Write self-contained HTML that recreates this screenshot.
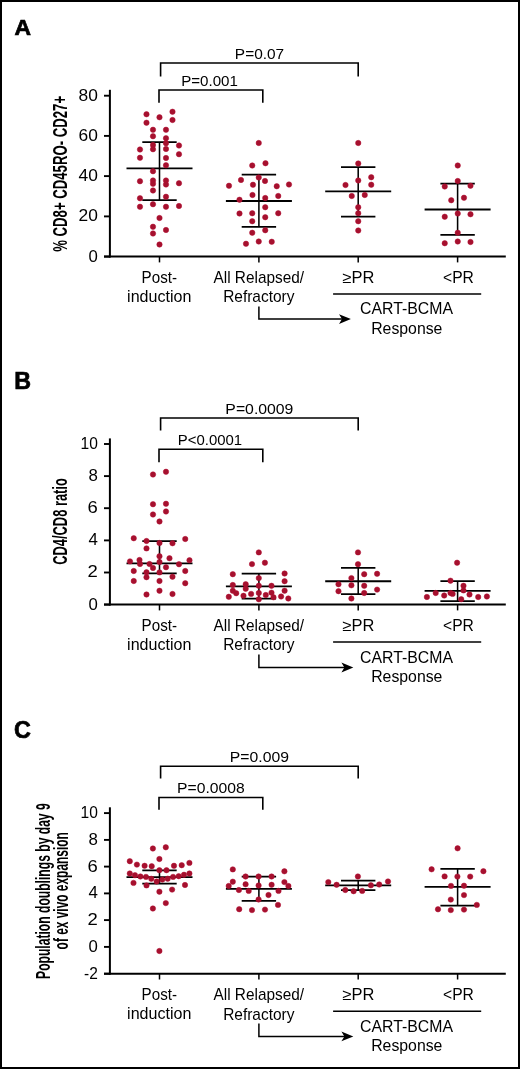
<!DOCTYPE html>
<html><head><meta charset="utf-8"><title>Figure</title>
<style>
html,body{margin:0;padding:0;background:#fff;}
body{width:520px;height:1069px;overflow:hidden;}
svg{display:block;will-change:transform;}
text{font-family:'Liberation Sans', sans-serif;fill:#000;}
</style></head>
<body>
<svg width="520" height="1069" viewBox="0 0 520 1069">
<rect x="0" y="0" width="520" height="1069" fill="#fff"/>
<rect x="1" y="1" width="518" height="1067" fill="none" stroke="#000" stroke-width="2"/>
<text x="14.48" y="34.50" font-size="22.9" font-weight="bold" stroke="#000" stroke-width="0.7" stroke-linejoin="miter" textLength="16.52" lengthAdjust="spacingAndGlyphs">A</text>
<line x1="109.90" y1="89.80" x2="109.90" y2="257.60" stroke="#000" stroke-width="2.0" stroke-linecap="butt"/><line x1="104.00" y1="95.70" x2="109.90" y2="95.70" stroke="#000" stroke-width="1.9" stroke-linecap="butt"/><text x="78.58" y="100.60" font-size="15.9" textLength="19.32" lengthAdjust="spacingAndGlyphs">80</text><line x1="104.00" y1="135.90" x2="109.90" y2="135.90" stroke="#000" stroke-width="1.9" stroke-linecap="butt"/><text x="78.58" y="140.80" font-size="15.9" textLength="19.32" lengthAdjust="spacingAndGlyphs">60</text><line x1="104.00" y1="176.10" x2="109.90" y2="176.10" stroke="#000" stroke-width="1.9" stroke-linecap="butt"/><text x="78.58" y="181.00" font-size="15.9" textLength="19.32" lengthAdjust="spacingAndGlyphs">40</text><line x1="104.00" y1="216.40" x2="109.90" y2="216.40" stroke="#000" stroke-width="1.9" stroke-linecap="butt"/><text x="78.58" y="221.30" font-size="15.9" textLength="19.32" lengthAdjust="spacingAndGlyphs">20</text><line x1="104.00" y1="256.60" x2="109.90" y2="256.60" stroke="#000" stroke-width="1.9" stroke-linecap="butt"/><text x="88.56" y="261.50" font-size="15.9" textLength="9.34" lengthAdjust="spacingAndGlyphs">0</text>
<text transform="translate(67.00,251.80) rotate(-90)" x="0" y="0" font-size="20.6" font-weight="bold" textLength="155.90" lengthAdjust="spacingAndGlyphs">% CD8+ CD45RO- CD27+</text>
<line x1="104.00" y1="256.60" x2="505.80" y2="256.60" stroke="#000" stroke-width="2.0" stroke-linecap="butt"/><line x1="159.50" y1="256.60" x2="159.50" y2="262.40" stroke="#000" stroke-width="1.5" stroke-linecap="butt"/><line x1="258.90" y1="256.60" x2="258.90" y2="262.40" stroke="#000" stroke-width="1.5" stroke-linecap="butt"/><line x1="358.20" y1="256.60" x2="358.20" y2="262.40" stroke="#000" stroke-width="1.5" stroke-linecap="butt"/><line x1="457.60" y1="256.60" x2="457.60" y2="262.40" stroke="#000" stroke-width="1.5" stroke-linecap="butt"/><text x="141.60" y="282.90" font-size="15.9" textLength="35.38" lengthAdjust="spacingAndGlyphs">Post-</text><text x="127.14" y="302.10" font-size="15.9" textLength="64.24" lengthAdjust="spacingAndGlyphs">induction</text><text x="213.50" y="282.80" font-size="15.9" textLength="90.54" lengthAdjust="spacingAndGlyphs">All Relapsed/</text><text x="223.16" y="302.40" font-size="15.9" textLength="71.28" lengthAdjust="spacingAndGlyphs">Refractory</text><text x="342.54" y="283.30" font-size="15.9" textLength="31.88" lengthAdjust="spacingAndGlyphs">≥PR</text><text x="443.02" y="283.30" font-size="15.9" textLength="30.86" lengthAdjust="spacingAndGlyphs">&lt;PR</text><line x1="333.10" y1="294.10" x2="481.20" y2="294.10" stroke="#000" stroke-width="1.5" stroke-linecap="butt"/><text x="360.08" y="314.10" font-size="15.9" textLength="92.92" lengthAdjust="spacingAndGlyphs">CART-BCMA</text><text x="371.16" y="333.60" font-size="15.9" textLength="71.24" lengthAdjust="spacingAndGlyphs">Response</text><path d="M258.9 306.50 V319.10 H343.0" fill="none" stroke="#000" stroke-width="1.5"/><path d="M350.9 319.10 L339.0 314.20 L342.0 319.10 L339.0 324.00 Z" fill="#000"/>
<path d="M160.6 76.4 V63.0 H358.2 V76.4" fill="none" stroke="#000" stroke-width="1.6"/>
<path d="M159.0 102.7 V90.0 H262.8 V102.7" fill="none" stroke="#000" stroke-width="1.6"/>
<text x="234.85" y="58.75" font-size="15.2" textLength="49.30" lengthAdjust="spacingAndGlyphs">P=0.07</text>
<text x="181.14" y="85.50" font-size="15.2" textLength="56.76" lengthAdjust="spacingAndGlyphs">P=0.001</text>
<line x1="159.50" y1="142.00" x2="159.50" y2="200.00" stroke="#000" stroke-width="1.55" stroke-linecap="butt"/><line x1="142.30" y1="142.00" x2="176.70" y2="142.00" stroke="#000" stroke-width="1.75" stroke-linecap="butt"/><line x1="142.30" y1="200.00" x2="176.70" y2="200.00" stroke="#000" stroke-width="1.75" stroke-linecap="butt"/><line x1="126.50" y1="168.30" x2="192.50" y2="168.30" stroke="#000" stroke-width="1.85" stroke-linecap="butt"/>
<line x1="258.90" y1="174.50" x2="258.90" y2="226.80" stroke="#000" stroke-width="1.55" stroke-linecap="butt"/><line x1="241.70" y1="174.50" x2="276.10" y2="174.50" stroke="#000" stroke-width="1.75" stroke-linecap="butt"/><line x1="241.70" y1="226.80" x2="276.10" y2="226.80" stroke="#000" stroke-width="1.75" stroke-linecap="butt"/><line x1="225.90" y1="201.00" x2="291.90" y2="201.00" stroke="#000" stroke-width="1.85" stroke-linecap="butt"/>
<line x1="358.20" y1="167.10" x2="358.20" y2="216.50" stroke="#000" stroke-width="1.55" stroke-linecap="butt"/><line x1="341.00" y1="167.10" x2="375.40" y2="167.10" stroke="#000" stroke-width="1.75" stroke-linecap="butt"/><line x1="341.00" y1="216.50" x2="375.40" y2="216.50" stroke="#000" stroke-width="1.75" stroke-linecap="butt"/><line x1="325.20" y1="191.30" x2="391.20" y2="191.30" stroke="#000" stroke-width="1.85" stroke-linecap="butt"/>
<line x1="457.60" y1="183.50" x2="457.60" y2="234.80" stroke="#000" stroke-width="1.55" stroke-linecap="butt"/><line x1="440.40" y1="183.50" x2="474.80" y2="183.50" stroke="#000" stroke-width="1.75" stroke-linecap="butt"/><line x1="440.40" y1="234.80" x2="474.80" y2="234.80" stroke="#000" stroke-width="1.75" stroke-linecap="butt"/><line x1="424.60" y1="209.50" x2="490.60" y2="209.50" stroke="#000" stroke-width="1.85" stroke-linecap="butt"/>
<g fill="#a5112e" stroke="#b30a30" stroke-width="0.5"><circle cx="146.50" cy="114.25" r="2.7"/><circle cx="172.50" cy="111.75" r="2.7"/><circle cx="159.50" cy="117.25" r="2.7"/><circle cx="172.50" cy="120.00" r="2.7"/><circle cx="146.50" cy="122.75" r="2.7"/><circle cx="153.00" cy="129.75" r="2.7"/><circle cx="166.00" cy="129.75" r="2.7"/><circle cx="153.00" cy="136.25" r="2.7"/><circle cx="166.00" cy="138.25" r="2.7"/><circle cx="166.00" cy="143.25" r="2.7"/><circle cx="153.00" cy="145.00" r="2.7"/><circle cx="153.00" cy="149.25" r="2.7"/><circle cx="166.00" cy="149.00" r="2.7"/><circle cx="179.00" cy="145.50" r="2.7"/><circle cx="140.00" cy="149.50" r="2.7"/><circle cx="179.00" cy="154.25" r="2.7"/><circle cx="140.00" cy="157.75" r="2.7"/><circle cx="166.00" cy="158.00" r="2.7"/><circle cx="166.00" cy="165.25" r="2.7"/><circle cx="153.00" cy="171.25" r="2.7"/><circle cx="140.00" cy="181.25" r="2.7"/><circle cx="153.00" cy="180.50" r="2.7"/><circle cx="153.00" cy="183.75" r="2.7"/><circle cx="166.00" cy="180.50" r="2.7"/><circle cx="166.00" cy="184.50" r="2.7"/><circle cx="179.00" cy="183.25" r="2.7"/><circle cx="153.00" cy="190.50" r="2.7"/><circle cx="166.00" cy="196.75" r="2.7"/><circle cx="140.00" cy="198.25" r="2.7"/><circle cx="153.00" cy="204.25" r="2.7"/><circle cx="140.00" cy="206.75" r="2.7"/><circle cx="166.00" cy="206.75" r="2.7"/><circle cx="179.00" cy="206.00" r="2.7"/><circle cx="159.50" cy="218.00" r="2.7"/><circle cx="153.00" cy="226.75" r="2.7"/><circle cx="166.00" cy="230.00" r="2.7"/><circle cx="153.00" cy="233.50" r="2.7"/><circle cx="159.50" cy="244.50" r="2.7"/><circle cx="258.75" cy="143.00" r="2.7"/><circle cx="265.50" cy="163.25" r="2.7"/><circle cx="252.25" cy="165.50" r="2.7"/><circle cx="258.75" cy="177.50" r="2.7"/><circle cx="241.00" cy="180.00" r="2.7"/><circle cx="265.00" cy="181.00" r="2.7"/><circle cx="229.00" cy="185.75" r="2.7"/><circle cx="253.00" cy="184.75" r="2.7"/><circle cx="276.75" cy="186.25" r="2.7"/><circle cx="289.00" cy="184.50" r="2.7"/><circle cx="252.50" cy="195.00" r="2.7"/><circle cx="278.25" cy="196.00" r="2.7"/><circle cx="239.50" cy="199.75" r="2.7"/><circle cx="265.25" cy="198.00" r="2.7"/><circle cx="265.25" cy="207.25" r="2.7"/><circle cx="239.50" cy="213.50" r="2.7"/><circle cx="252.25" cy="213.25" r="2.7"/><circle cx="278.25" cy="213.25" r="2.7"/><circle cx="265.25" cy="217.25" r="2.7"/><circle cx="252.25" cy="221.25" r="2.7"/><circle cx="265.25" cy="230.25" r="2.7"/><circle cx="252.25" cy="232.75" r="2.7"/><circle cx="258.75" cy="241.50" r="2.7"/><circle cx="271.75" cy="241.75" r="2.7"/><circle cx="246.00" cy="243.75" r="2.7"/><circle cx="358.25" cy="143.00" r="2.7"/><circle cx="358.25" cy="163.50" r="2.7"/><circle cx="371.25" cy="177.25" r="2.7"/><circle cx="358.25" cy="180.50" r="2.7"/><circle cx="345.50" cy="185.00" r="2.7"/><circle cx="371.25" cy="184.75" r="2.7"/><circle cx="351.75" cy="196.00" r="2.7"/><circle cx="364.75" cy="195.00" r="2.7"/><circle cx="358.25" cy="207.25" r="2.7"/><circle cx="358.25" cy="213.25" r="2.7"/><circle cx="358.25" cy="221.25" r="2.7"/><circle cx="358.25" cy="230.50" r="2.7"/><circle cx="457.75" cy="165.50" r="2.7"/><circle cx="457.75" cy="181.00" r="2.7"/><circle cx="444.75" cy="186.50" r="2.7"/><circle cx="470.50" cy="185.75" r="2.7"/><circle cx="451.25" cy="200.25" r="2.7"/><circle cx="464.00" cy="197.75" r="2.7"/><circle cx="457.75" cy="213.50" r="2.7"/><circle cx="470.50" cy="214.25" r="2.7"/><circle cx="444.75" cy="216.75" r="2.7"/><circle cx="457.75" cy="232.75" r="2.7"/><circle cx="444.75" cy="243.25" r="2.7"/><circle cx="457.75" cy="241.50" r="2.7"/><circle cx="470.50" cy="242.00" r="2.7"/></g>
<text x="14.16" y="388.90" font-size="23.6" font-weight="bold" stroke="#000" stroke-width="0.7" stroke-linejoin="miter" textLength="16.78" lengthAdjust="spacingAndGlyphs">B</text>
<line x1="109.90" y1="438.40" x2="109.90" y2="605.60" stroke="#000" stroke-width="2.0" stroke-linecap="butt"/><line x1="104.00" y1="444.00" x2="109.90" y2="444.00" stroke="#000" stroke-width="1.9" stroke-linecap="butt"/><text x="80.58" y="448.90" font-size="15.9" textLength="17.32" lengthAdjust="spacingAndGlyphs">10</text><line x1="104.00" y1="476.10" x2="109.90" y2="476.10" stroke="#000" stroke-width="1.9" stroke-linecap="butt"/><text x="88.52" y="481.00" font-size="15.9" textLength="9.38" lengthAdjust="spacingAndGlyphs">8</text><line x1="104.00" y1="508.20" x2="109.90" y2="508.20" stroke="#000" stroke-width="1.9" stroke-linecap="butt"/><text x="87.62" y="513.10" font-size="15.9" textLength="10.28" lengthAdjust="spacingAndGlyphs">6</text><line x1="104.00" y1="540.40" x2="109.90" y2="540.40" stroke="#000" stroke-width="1.9" stroke-linecap="butt"/><text x="88.52" y="545.30" font-size="15.9" textLength="9.38" lengthAdjust="spacingAndGlyphs">4</text><line x1="104.00" y1="572.50" x2="109.90" y2="572.50" stroke="#000" stroke-width="1.9" stroke-linecap="butt"/><text x="87.62" y="577.40" font-size="15.9" textLength="10.28" lengthAdjust="spacingAndGlyphs">2</text><line x1="104.00" y1="604.60" x2="109.90" y2="604.60" stroke="#000" stroke-width="1.9" stroke-linecap="butt"/><text x="88.56" y="609.50" font-size="15.9" textLength="9.34" lengthAdjust="spacingAndGlyphs">0</text>
<text transform="translate(67.20,564.80) rotate(-90)" x="0" y="0" font-size="20.6" font-weight="bold" textLength="86.60" lengthAdjust="spacingAndGlyphs">CD4/CD8 ratio</text>
<line x1="104.00" y1="604.60" x2="505.80" y2="604.60" stroke="#000" stroke-width="2.0" stroke-linecap="butt"/><line x1="159.50" y1="604.60" x2="159.50" y2="610.40" stroke="#000" stroke-width="1.5" stroke-linecap="butt"/><line x1="258.90" y1="604.60" x2="258.90" y2="610.40" stroke="#000" stroke-width="1.5" stroke-linecap="butt"/><line x1="358.20" y1="604.60" x2="358.20" y2="610.40" stroke="#000" stroke-width="1.5" stroke-linecap="butt"/><line x1="457.60" y1="604.60" x2="457.60" y2="610.40" stroke="#000" stroke-width="1.5" stroke-linecap="butt"/><text x="141.60" y="630.90" font-size="15.9" textLength="35.38" lengthAdjust="spacingAndGlyphs">Post-</text><text x="127.14" y="650.10" font-size="15.9" textLength="64.24" lengthAdjust="spacingAndGlyphs">induction</text><text x="213.50" y="630.80" font-size="15.9" textLength="90.54" lengthAdjust="spacingAndGlyphs">All Relapsed/</text><text x="223.16" y="650.40" font-size="15.9" textLength="71.28" lengthAdjust="spacingAndGlyphs">Refractory</text><text x="342.54" y="631.30" font-size="15.9" textLength="31.88" lengthAdjust="spacingAndGlyphs">≥PR</text><text x="443.02" y="631.30" font-size="15.9" textLength="30.86" lengthAdjust="spacingAndGlyphs">&lt;PR</text><line x1="333.10" y1="642.10" x2="481.20" y2="642.10" stroke="#000" stroke-width="1.5" stroke-linecap="butt"/><text x="360.08" y="662.60" font-size="15.9" textLength="92.92" lengthAdjust="spacingAndGlyphs">CART-BCMA</text><text x="371.16" y="682.10" font-size="15.9" textLength="71.24" lengthAdjust="spacingAndGlyphs">Response</text><path d="M258.9 654.50 V667.50 H345.4" fill="none" stroke="#000" stroke-width="1.5"/><path d="M353.29999999999995 667.50 L341.4 662.60 L344.4 667.50 L341.4 672.40 Z" fill="#000"/>
<path d="M160.6 430.4 V418.0 H358.2 V430.4" fill="none" stroke="#000" stroke-width="1.6"/>
<path d="M159.0 462.2 V449.3 H262.8 V462.2" fill="none" stroke="#000" stroke-width="1.6"/>
<text x="225.35" y="413.75" font-size="15.2" textLength="68.05" lengthAdjust="spacingAndGlyphs">P=0.0009</text>
<text x="177.85" y="444.50" font-size="15.2" textLength="64.30" lengthAdjust="spacingAndGlyphs">P&lt;0.0001</text>
<line x1="159.50" y1="541.00" x2="159.50" y2="573.30" stroke="#000" stroke-width="1.55" stroke-linecap="butt"/><line x1="142.30" y1="541.00" x2="176.70" y2="541.00" stroke="#000" stroke-width="1.75" stroke-linecap="butt"/><line x1="142.30" y1="573.30" x2="176.70" y2="573.30" stroke="#000" stroke-width="1.75" stroke-linecap="butt"/><line x1="126.50" y1="563.30" x2="192.50" y2="563.30" stroke="#000" stroke-width="1.85" stroke-linecap="butt"/>
<line x1="258.90" y1="573.60" x2="258.90" y2="598.70" stroke="#000" stroke-width="1.55" stroke-linecap="butt"/><line x1="241.70" y1="573.60" x2="276.10" y2="573.60" stroke="#000" stroke-width="1.75" stroke-linecap="butt"/><line x1="241.70" y1="598.70" x2="276.10" y2="598.70" stroke="#000" stroke-width="1.75" stroke-linecap="butt"/><line x1="225.90" y1="586.30" x2="291.90" y2="586.30" stroke="#000" stroke-width="1.85" stroke-linecap="butt"/>
<line x1="358.20" y1="567.80" x2="358.20" y2="594.20" stroke="#000" stroke-width="1.55" stroke-linecap="butt"/><line x1="341.00" y1="567.80" x2="375.40" y2="567.80" stroke="#000" stroke-width="1.75" stroke-linecap="butt"/><line x1="341.00" y1="594.20" x2="375.40" y2="594.20" stroke="#000" stroke-width="1.75" stroke-linecap="butt"/><line x1="325.20" y1="581.20" x2="391.20" y2="581.20" stroke="#000" stroke-width="1.85" stroke-linecap="butt"/>
<line x1="457.60" y1="581.20" x2="457.60" y2="601.20" stroke="#000" stroke-width="1.55" stroke-linecap="butt"/><line x1="440.40" y1="581.20" x2="474.80" y2="581.20" stroke="#000" stroke-width="1.75" stroke-linecap="butt"/><line x1="440.40" y1="601.20" x2="474.80" y2="601.20" stroke="#000" stroke-width="1.75" stroke-linecap="butt"/><line x1="424.60" y1="590.80" x2="490.60" y2="590.80" stroke="#000" stroke-width="1.85" stroke-linecap="butt"/>
<g fill="#a5112e" stroke="#b30a30" stroke-width="0.5"><circle cx="153.00" cy="474.50" r="2.7"/><circle cx="166.00" cy="471.75" r="2.7"/><circle cx="153.00" cy="504.25" r="2.7"/><circle cx="166.00" cy="503.75" r="2.7"/><circle cx="166.00" cy="511.50" r="2.7"/><circle cx="153.00" cy="514.50" r="2.7"/><circle cx="159.50" cy="521.50" r="2.7"/><circle cx="133.75" cy="538.25" r="2.7"/><circle cx="185.25" cy="539.00" r="2.7"/><circle cx="146.50" cy="541.00" r="2.7"/><circle cx="159.50" cy="543.00" r="2.7"/><circle cx="172.50" cy="543.25" r="2.7"/><circle cx="146.50" cy="548.40" r="2.7"/><circle cx="159.50" cy="556.25" r="2.7"/><circle cx="169.50" cy="558.25" r="2.7"/><circle cx="139.50" cy="560.00" r="2.7"/><circle cx="130.00" cy="561.40" r="2.7"/><circle cx="189.50" cy="560.25" r="2.7"/><circle cx="159.50" cy="562.00" r="2.7"/><circle cx="140.00" cy="564.00" r="2.7"/><circle cx="149.50" cy="564.00" r="2.7"/><circle cx="179.00" cy="564.25" r="2.7"/><circle cx="153.00" cy="568.00" r="2.7"/><circle cx="166.00" cy="567.25" r="2.7"/><circle cx="133.75" cy="571.00" r="2.7"/><circle cx="185.25" cy="571.00" r="2.7"/><circle cx="146.50" cy="572.30" r="2.7"/><circle cx="159.50" cy="572.40" r="2.7"/><circle cx="146.50" cy="577.20" r="2.7"/><circle cx="172.50" cy="576.70" r="2.7"/><circle cx="133.75" cy="581.00" r="2.7"/><circle cx="159.50" cy="581.00" r="2.7"/><circle cx="185.25" cy="583.25" r="2.7"/><circle cx="159.50" cy="590.75" r="2.7"/><circle cx="146.50" cy="594.50" r="2.7"/><circle cx="172.50" cy="594.00" r="2.7"/><circle cx="258.80" cy="552.40" r="2.7"/><circle cx="264.90" cy="562.70" r="2.7"/><circle cx="252.00" cy="564.10" r="2.7"/><circle cx="232.80" cy="574.20" r="2.7"/><circle cx="284.60" cy="573.50" r="2.7"/><circle cx="258.80" cy="578.10" r="2.7"/><circle cx="284.60" cy="581.20" r="2.7"/><circle cx="232.80" cy="585.00" r="2.7"/><circle cx="245.70" cy="584.20" r="2.7"/><circle cx="258.80" cy="585.80" r="2.7"/><circle cx="271.50" cy="585.80" r="2.7"/><circle cx="245.70" cy="588.80" r="2.7"/><circle cx="284.60" cy="590.70" r="2.7"/><circle cx="232.80" cy="590.80" r="2.7"/><circle cx="236.20" cy="593.20" r="2.7"/><circle cx="251.10" cy="593.90" r="2.7"/><circle cx="258.80" cy="593.00" r="2.7"/><circle cx="271.50" cy="592.70" r="2.7"/><circle cx="265.80" cy="595.00" r="2.7"/><circle cx="228.80" cy="596.80" r="2.7"/><circle cx="243.50" cy="595.80" r="2.7"/><circle cx="273.50" cy="597.30" r="2.7"/><circle cx="281.10" cy="596.50" r="2.7"/><circle cx="258.80" cy="599.30" r="2.7"/><circle cx="288.30" cy="598.50" r="2.7"/><circle cx="358.00" cy="552.40" r="2.7"/><circle cx="358.00" cy="564.20" r="2.7"/><circle cx="364.20" cy="574.20" r="2.7"/><circle cx="377.10" cy="573.80" r="2.7"/><circle cx="351.40" cy="578.10" r="2.7"/><circle cx="338.50" cy="584.20" r="2.7"/><circle cx="351.40" cy="585.30" r="2.7"/><circle cx="364.20" cy="585.80" r="2.7"/><circle cx="377.10" cy="589.60" r="2.7"/><circle cx="338.50" cy="591.20" r="2.7"/><circle cx="364.20" cy="593.00" r="2.7"/><circle cx="351.40" cy="598.50" r="2.7"/><circle cx="457.10" cy="562.70" r="2.7"/><circle cx="450.50" cy="580.70" r="2.7"/><circle cx="463.50" cy="585.80" r="2.7"/><circle cx="463.50" cy="590.40" r="2.7"/><circle cx="435.70" cy="593.00" r="2.7"/><circle cx="450.50" cy="593.00" r="2.7"/><circle cx="452.60" cy="593.90" r="2.7"/><circle cx="469.50" cy="594.50" r="2.7"/><circle cx="444.20" cy="595.50" r="2.7"/><circle cx="426.90" cy="597.00" r="2.7"/><circle cx="478.20" cy="597.00" r="2.7"/><circle cx="486.90" cy="596.50" r="2.7"/><circle cx="461.20" cy="599.20" r="2.7"/></g>
<text x="14.10" y="737.60" font-size="24.6" font-weight="bold" stroke="#000" stroke-width="0.7" stroke-linejoin="miter" textLength="16.86" lengthAdjust="spacingAndGlyphs">C</text>
<line x1="109.90" y1="807.30" x2="109.90" y2="974.70" stroke="#000" stroke-width="2.0" stroke-linecap="butt"/><line x1="104.00" y1="813.10" x2="109.90" y2="813.10" stroke="#000" stroke-width="1.9" stroke-linecap="butt"/><text x="80.58" y="818.00" font-size="15.9" textLength="17.32" lengthAdjust="spacingAndGlyphs">10</text><line x1="104.00" y1="839.90" x2="109.90" y2="839.90" stroke="#000" stroke-width="1.9" stroke-linecap="butt"/><text x="88.52" y="844.80" font-size="15.9" textLength="9.38" lengthAdjust="spacingAndGlyphs">8</text><line x1="104.00" y1="866.60" x2="109.90" y2="866.60" stroke="#000" stroke-width="1.9" stroke-linecap="butt"/><text x="87.62" y="871.50" font-size="15.9" textLength="10.28" lengthAdjust="spacingAndGlyphs">6</text><line x1="104.00" y1="893.40" x2="109.90" y2="893.40" stroke="#000" stroke-width="1.9" stroke-linecap="butt"/><text x="88.52" y="898.30" font-size="15.9" textLength="9.38" lengthAdjust="spacingAndGlyphs">4</text><line x1="104.00" y1="920.10" x2="109.90" y2="920.10" stroke="#000" stroke-width="1.9" stroke-linecap="butt"/><text x="87.62" y="925.00" font-size="15.9" textLength="10.28" lengthAdjust="spacingAndGlyphs">2</text><line x1="104.00" y1="946.90" x2="109.90" y2="946.90" stroke="#000" stroke-width="1.9" stroke-linecap="butt"/><text x="88.56" y="951.80" font-size="15.9" textLength="9.34" lengthAdjust="spacingAndGlyphs">0</text><line x1="104.00" y1="973.70" x2="109.90" y2="973.70" stroke="#000" stroke-width="1.9" stroke-linecap="butt"/><text x="84.10" y="978.60" font-size="15.9" textLength="13.80" lengthAdjust="spacingAndGlyphs">-2</text>
<text transform="translate(50.40,978.90) rotate(-90)" x="0" y="0" font-size="20.6" font-weight="bold" textLength="175.60" lengthAdjust="spacingAndGlyphs">Population doublings by day 9</text>
<text transform="translate(67.70,949.40) rotate(-90)" x="0" y="0" font-size="20.6" font-weight="bold" textLength="117.20" lengthAdjust="spacingAndGlyphs">of ex vivo expansion</text>
<line x1="104.00" y1="973.70" x2="505.80" y2="973.70" stroke="#000" stroke-width="2.0" stroke-linecap="butt"/><line x1="159.50" y1="973.70" x2="159.50" y2="979.50" stroke="#000" stroke-width="1.5" stroke-linecap="butt"/><line x1="258.90" y1="973.70" x2="258.90" y2="979.50" stroke="#000" stroke-width="1.5" stroke-linecap="butt"/><line x1="358.20" y1="973.70" x2="358.20" y2="979.50" stroke="#000" stroke-width="1.5" stroke-linecap="butt"/><line x1="457.60" y1="973.70" x2="457.60" y2="979.50" stroke="#000" stroke-width="1.5" stroke-linecap="butt"/><text x="141.60" y="1000.00" font-size="15.9" textLength="35.38" lengthAdjust="spacingAndGlyphs">Post-</text><text x="127.14" y="1019.20" font-size="15.9" textLength="64.24" lengthAdjust="spacingAndGlyphs">induction</text><text x="213.50" y="999.90" font-size="15.9" textLength="90.54" lengthAdjust="spacingAndGlyphs">All Relapsed/</text><text x="223.16" y="1019.50" font-size="15.9" textLength="71.28" lengthAdjust="spacingAndGlyphs">Refractory</text><text x="342.54" y="1000.40" font-size="15.9" textLength="31.88" lengthAdjust="spacingAndGlyphs">≥PR</text><text x="443.02" y="1000.40" font-size="15.9" textLength="30.86" lengthAdjust="spacingAndGlyphs">&lt;PR</text><line x1="333.10" y1="1011.20" x2="481.20" y2="1011.20" stroke="#000" stroke-width="1.5" stroke-linecap="butt"/><text x="360.08" y="1031.60" font-size="15.9" textLength="92.92" lengthAdjust="spacingAndGlyphs">CART-BCMA</text><text x="371.16" y="1051.10" font-size="15.9" textLength="71.24" lengthAdjust="spacingAndGlyphs">Response</text><path d="M258.9 1023.60 V1036.40 H345.4" fill="none" stroke="#000" stroke-width="1.5"/><path d="M353.29999999999995 1036.40 L341.4 1031.50 L344.4 1036.40 L341.4 1041.30 Z" fill="#000"/>
<path d="M160.6 778.4 V766.3 H358.2 V778.4" fill="none" stroke="#000" stroke-width="1.6"/>
<path d="M159.0 809.6999999999999 V797.5 H262.8 V809.6999999999999" fill="none" stroke="#000" stroke-width="1.6"/>
<text x="229.85" y="762.00" font-size="15.2" textLength="59.05" lengthAdjust="spacingAndGlyphs">P=0.009</text>
<text x="177.10" y="793.00" font-size="15.2" textLength="67.55" lengthAdjust="spacingAndGlyphs">P=0.0008</text>
<line x1="159.50" y1="870.40" x2="159.50" y2="883.70" stroke="#000" stroke-width="1.55" stroke-linecap="butt"/><line x1="142.30" y1="870.40" x2="176.70" y2="870.40" stroke="#000" stroke-width="1.75" stroke-linecap="butt"/><line x1="142.30" y1="883.70" x2="176.70" y2="883.70" stroke="#000" stroke-width="1.75" stroke-linecap="butt"/><line x1="126.50" y1="877.10" x2="192.50" y2="877.10" stroke="#000" stroke-width="1.85" stroke-linecap="butt"/>
<line x1="258.90" y1="876.50" x2="258.90" y2="900.90" stroke="#000" stroke-width="1.55" stroke-linecap="butt"/><line x1="241.70" y1="876.50" x2="276.10" y2="876.50" stroke="#000" stroke-width="1.75" stroke-linecap="butt"/><line x1="241.70" y1="900.90" x2="276.10" y2="900.90" stroke="#000" stroke-width="1.75" stroke-linecap="butt"/><line x1="225.90" y1="888.80" x2="291.90" y2="888.80" stroke="#000" stroke-width="1.85" stroke-linecap="butt"/>
<line x1="358.20" y1="880.70" x2="358.20" y2="890.20" stroke="#000" stroke-width="1.55" stroke-linecap="butt"/><line x1="341.00" y1="880.70" x2="375.40" y2="880.70" stroke="#000" stroke-width="1.75" stroke-linecap="butt"/><line x1="341.00" y1="890.20" x2="375.40" y2="890.20" stroke="#000" stroke-width="1.75" stroke-linecap="butt"/><line x1="325.20" y1="885.30" x2="391.20" y2="885.30" stroke="#000" stroke-width="1.85" stroke-linecap="butt"/>
<line x1="457.60" y1="868.80" x2="457.60" y2="905.50" stroke="#000" stroke-width="1.55" stroke-linecap="butt"/><line x1="440.40" y1="868.80" x2="474.80" y2="868.80" stroke="#000" stroke-width="1.75" stroke-linecap="butt"/><line x1="440.40" y1="905.50" x2="474.80" y2="905.50" stroke="#000" stroke-width="1.75" stroke-linecap="butt"/><line x1="424.60" y1="886.80" x2="490.60" y2="886.80" stroke="#000" stroke-width="1.85" stroke-linecap="butt"/>
<g fill="#a5112e" stroke="#b30a30" stroke-width="0.5"><circle cx="152.90" cy="848.50" r="2.7"/><circle cx="165.80" cy="847.30" r="2.7"/><circle cx="159.40" cy="859.00" r="2.7"/><circle cx="129.80" cy="861.20" r="2.7"/><circle cx="189.40" cy="862.90" r="2.7"/><circle cx="136.90" cy="864.60" r="2.7"/><circle cx="181.70" cy="865.20" r="2.7"/><circle cx="144.60" cy="865.80" r="2.7"/><circle cx="151.70" cy="866.20" r="2.7"/><circle cx="174.00" cy="865.80" r="2.7"/><circle cx="159.40" cy="870.20" r="2.7"/><circle cx="166.50" cy="870.20" r="2.7"/><circle cx="129.80" cy="873.50" r="2.7"/><circle cx="189.40" cy="873.50" r="2.7"/><circle cx="135.00" cy="875.20" r="2.7"/><circle cx="184.00" cy="874.80" r="2.7"/><circle cx="140.40" cy="876.50" r="2.7"/><circle cx="178.70" cy="876.20" r="2.7"/><circle cx="146.00" cy="876.90" r="2.7"/><circle cx="173.10" cy="876.90" r="2.7"/><circle cx="151.30" cy="878.80" r="2.7"/><circle cx="167.70" cy="878.70" r="2.7"/><circle cx="162.30" cy="879.60" r="2.7"/><circle cx="156.70" cy="881.50" r="2.7"/><circle cx="133.50" cy="882.90" r="2.7"/><circle cx="146.50" cy="885.40" r="2.7"/><circle cx="185.00" cy="885.00" r="2.7"/><circle cx="172.10" cy="889.60" r="2.7"/><circle cx="159.40" cy="891.70" r="2.7"/><circle cx="165.80" cy="903.10" r="2.7"/><circle cx="152.90" cy="908.50" r="2.7"/><circle cx="159.40" cy="951.00" r="2.7"/><circle cx="232.80" cy="869.40" r="2.7"/><circle cx="284.40" cy="871.30" r="2.7"/><circle cx="245.60" cy="876.50" r="2.7"/><circle cx="258.60" cy="876.50" r="2.7"/><circle cx="271.60" cy="876.50" r="2.7"/><circle cx="232.80" cy="881.70" r="2.7"/><circle cx="284.40" cy="882.10" r="2.7"/><circle cx="245.60" cy="884.30" r="2.7"/><circle cx="271.60" cy="884.80" r="2.7"/><circle cx="258.60" cy="885.50" r="2.7"/><circle cx="228.70" cy="886.00" r="2.7"/><circle cx="288.40" cy="886.00" r="2.7"/><circle cx="238.90" cy="890.00" r="2.7"/><circle cx="248.70" cy="890.90" r="2.7"/><circle cx="278.50" cy="890.90" r="2.7"/><circle cx="268.50" cy="895.00" r="2.7"/><circle cx="258.60" cy="899.50" r="2.7"/><circle cx="278.00" cy="904.90" r="2.7"/><circle cx="239.20" cy="909.20" r="2.7"/><circle cx="252.00" cy="910.10" r="2.7"/><circle cx="265.00" cy="909.60" r="2.7"/><circle cx="357.90" cy="876.50" r="2.7"/><circle cx="328.30" cy="882.10" r="2.7"/><circle cx="388.00" cy="881.50" r="2.7"/><circle cx="336.60" cy="884.80" r="2.7"/><circle cx="379.20" cy="884.50" r="2.7"/><circle cx="370.90" cy="885.30" r="2.7"/><circle cx="345.30" cy="890.00" r="2.7"/><circle cx="362.20" cy="890.90" r="2.7"/><circle cx="353.60" cy="891.20" r="2.7"/><circle cx="457.60" cy="848.30" r="2.7"/><circle cx="431.60" cy="869.30" r="2.7"/><circle cx="483.40" cy="871.20" r="2.7"/><circle cx="444.60" cy="876.40" r="2.7"/><circle cx="457.40" cy="876.60" r="2.7"/><circle cx="470.20" cy="876.60" r="2.7"/><circle cx="451.00" cy="885.90" r="2.7"/><circle cx="464.00" cy="885.70" r="2.7"/><circle cx="464.00" cy="895.10" r="2.7"/><circle cx="450.80" cy="899.60" r="2.7"/><circle cx="476.80" cy="904.90" r="2.7"/><circle cx="438.00" cy="909.30" r="2.7"/><circle cx="450.80" cy="910.10" r="2.7"/><circle cx="464.00" cy="909.60" r="2.7"/></g>
</svg>
</body></html>
